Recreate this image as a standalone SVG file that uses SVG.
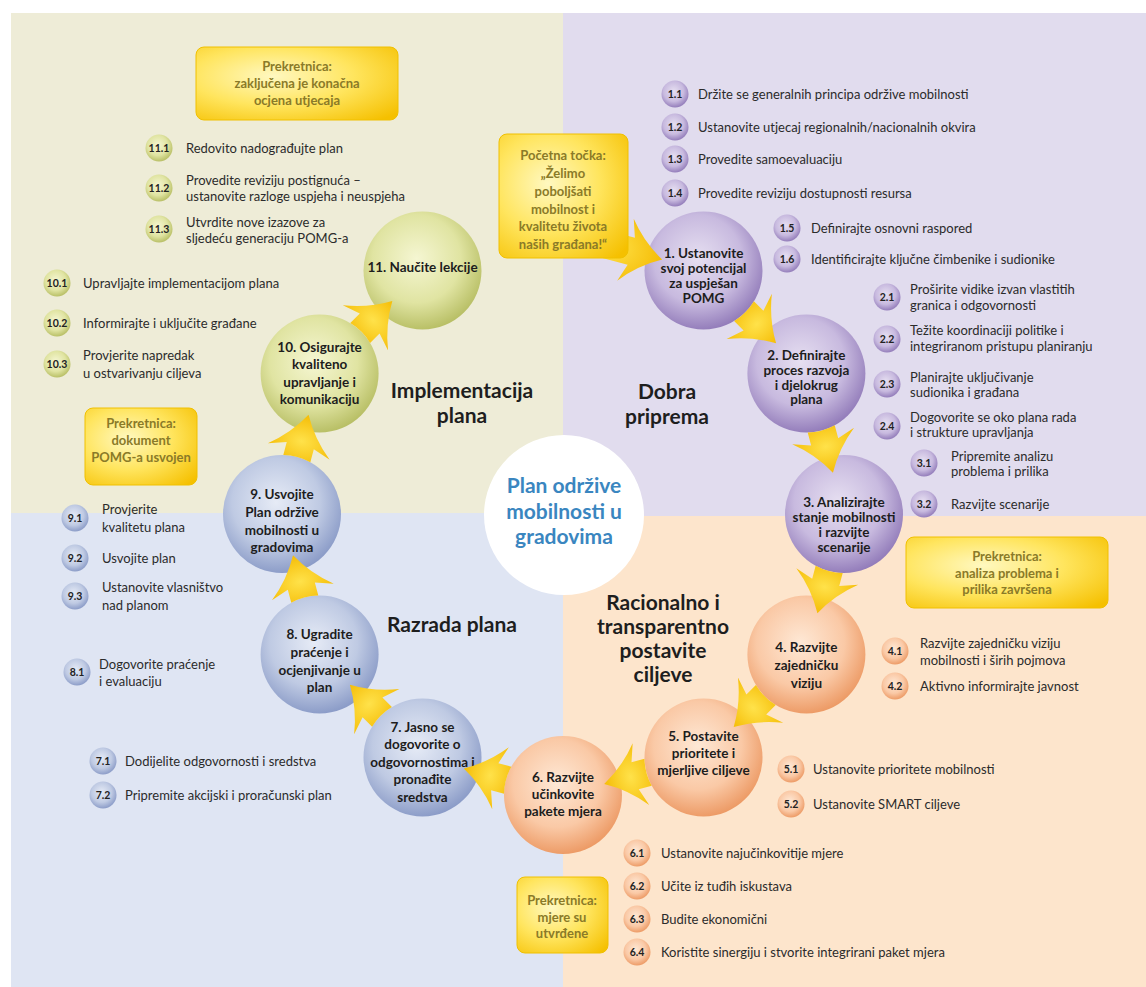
<svg xmlns="http://www.w3.org/2000/svg" xmlns:xlink="http://www.w3.org/1999/xlink" width="1146" height="987" viewBox="0 0 1146 987">
<style>
text{font-family:Lato,"Open Sans","DejaVu Sans",sans-serif}
.sub{font-size:13px;fill:#2b2b2b}
.bn{font-size:10.5px;font-weight:bold;fill:#222;text-anchor:middle}
.nt{font-size:13.5px;font-weight:bold;fill:#1d1d1d;text-anchor:middle}
.ph{font-size:21px;font-weight:bold;fill:#1e1e1e;text-anchor:middle}
.ms{font-size:13px;font-weight:bold;fill:#8a7a28;text-anchor:middle}
.ctr{font-size:21px;font-weight:bold;fill:#3a86c0;text-anchor:middle}
.box{fill:url(#gY);stroke:#f0c000;stroke-width:1}
.arrow{fill:url(#gA)}
</style>
<defs>
<radialGradient id="gP" cx="45%" cy="40%" r="62%"><stop offset="0" stop-color="#e6dff1"/><stop offset="0.6" stop-color="#c8badf"/><stop offset="1" stop-color="#9079b8"/></radialGradient>
<radialGradient id="gO" cx="45%" cy="40%" r="62%"><stop offset="0" stop-color="#fee8d5"/><stop offset="0.6" stop-color="#fac9a6"/><stop offset="1" stop-color="#ec9862"/></radialGradient>
<radialGradient id="gB" cx="45%" cy="40%" r="62%"><stop offset="0" stop-color="#e6ebf6"/><stop offset="0.6" stop-color="#bfcae3"/><stop offset="1" stop-color="#8899c6"/></radialGradient>
<radialGradient id="gG" cx="45%" cy="40%" r="62%"><stop offset="0" stop-color="#f5f6d2"/><stop offset="0.6" stop-color="#e0e4a2"/><stop offset="1" stop-color="#b6bd62"/></radialGradient>
<radialGradient id="gY" cx="38%" cy="40%" r="80%"><stop offset="0" stop-color="#fff8c0"/><stop offset="0.5" stop-color="#ffe55e"/><stop offset="1" stop-color="#f5c000"/></radialGradient>
<radialGradient id="gA" cx="40%" cy="50%" r="65%"><stop offset="0" stop-color="#ffe24a"/><stop offset="1" stop-color="#f4b900"/></radialGradient>
<path id="arr" d="M30,0 Q8,12 -8,32 L-2,14 L-15.4,14 A59,59 0 0 0 -15.4,-14 L-2,-14 L-8,-32 Q8,-12 30,0 Z"/>
<path id="arrS" d="M30,0 Q8,12 -8,32 L-2,14 L-60,14 L-60,-14 L-2,-14 L-8,-32 Q8,-12 30,0 Z"/>
</defs>

<g id="background">
<rect x="0" y="0" width="1146" height="987" fill="#ffffff"/>
<rect x="11" y="13" width="552" height="500" fill="#eeecd7"/>
<rect x="563" y="13" width="583" height="503" fill="#e1dcee"/>
<rect x="11" y="513" width="552" height="474" fill="#dfe5f3"/>
<rect x="563" y="516" width="583" height="471" fill="#fde5cc"/>
</g>

<g id="center">
<circle cx="564" cy="515" r="80" fill="#ffffff"/>
<text class="ctr"><tspan x="564" y="493">Plan održive</tspan><tspan x="564" y="518.5">mobilnosti u</tspan><tspan x="564" y="544">gradovima</tspan></text>
</g>

<g id="phase-labels">
<g id="ph-implementacija"><text class="ph"><tspan x="462" y="398">Implementacija</tspan><tspan x="462" y="423">plana</tspan></text></g>
<g id="ph-dobra"><text class="ph"><tspan x="667" y="399">Dobra</tspan><tspan x="667" y="424">priprema</tspan></text></g>
<g id="ph-racionalno"><text class="ph"><tspan x="663" y="610">Racionalno i</tspan><tspan x="663" y="634">transparentno</tspan><tspan x="663" y="658">postavite</tspan><tspan x="663" y="682">ciljeve</tspan></text></g>
<g id="ph-razrada"><text class="ph"><tspan x="452" y="632">Razrada plana</tspan></text></g>
</g>

<g id="n1"><circle cx="703.5" cy="270.6" r="59" fill="url(#gP)"/><text class="nt"><tspan x="703.5" y="258">1. Ustanovite</tspan><tspan x="703.5" y="273">svoj potencijal</tspan><tspan x="703.5" y="288">za uspješan</tspan><tspan x="703.5" y="303">POMG</tspan></text></g>
<g id="n2"><circle cx="806.4" cy="373.5" r="59" fill="url(#gP)"/><text class="nt"><tspan x="806.4" y="360">2. Definirajte</tspan><tspan x="806.4" y="375">proces razvoja</tspan><tspan x="806.4" y="390">i djelokrug</tspan><tspan x="806.4" y="404">plana</tspan></text></g>
<g id="n3"><circle cx="844" cy="514" r="59" fill="url(#gP)"/><text class="nt"><tspan x="844" y="507">3. Analizirajte</tspan><tspan x="844" y="522">stanje mobilnosti</tspan><tspan x="844" y="537">i razvijte</tspan><tspan x="844" y="552">scenarije</tspan></text></g>
<g id="n4"><circle cx="806.4" cy="654.5" r="59" fill="url(#gO)"/><text class="nt"><tspan x="806.4" y="652">4. Razvijte</tspan><tspan x="806.4" y="670">zajedničku</tspan><tspan x="806.4" y="688">viziju</tspan></text></g>
<g id="n5"><circle cx="703.5" cy="757.4" r="59" fill="url(#gO)"/><text class="nt"><tspan x="703.5" y="741">5. Postavite</tspan><tspan x="703.5" y="758">prioritete i</tspan><tspan x="703.5" y="775">mjerljive ciljeve</tspan></text></g>
<g id="n6"><circle cx="563" cy="795" r="59" fill="url(#gO)"/><text class="nt"><tspan x="563" y="782">6. Razvijte</tspan><tspan x="563" y="799">učinkovite</tspan><tspan x="563" y="816">pakete mjera</tspan></text></g>
<g id="n7"><circle cx="422.5" cy="757.4" r="59" fill="url(#gB)"/><text class="nt"><tspan x="422.5" y="732">7. Jasno se</tspan><tspan x="422.5" y="749">dogovorite o</tspan><tspan x="422.5" y="767">odgovornostima i</tspan><tspan x="422.5" y="784">pronađite</tspan><tspan x="422.5" y="802">sredstva</tspan></text></g>
<g id="n8"><circle cx="319.6" cy="654.5" r="59" fill="url(#gB)"/><text class="nt"><tspan x="319.6" y="639">8. Ugradite</tspan><tspan x="319.6" y="657">praćenje i</tspan><tspan x="319.6" y="675">ocjenjivanje u</tspan><tspan x="319.6" y="692">plan</tspan></text></g>
<g id="n9"><circle cx="282" cy="514" r="59" fill="url(#gB)"/><text class="nt"><tspan x="282" y="499">9. Usvojite</tspan><tspan x="282" y="517">Plan održive</tspan><tspan x="282" y="535">mobilnosti u</tspan><tspan x="282" y="552">gradovima</tspan></text></g>
<g id="n10"><circle cx="319.6" cy="373.5" r="59" fill="url(#gG)"/><text class="nt"><tspan x="319.6" y="352">10. Osigurajte</tspan><tspan x="319.6" y="369">kvaliteno</tspan><tspan x="319.6" y="387">upravljanje i</tspan><tspan x="319.6" y="404">komunikaciju</tspan></text></g>
<g id="n11"><circle cx="422.5" cy="270.6" r="59" fill="url(#gG)"/><text class="nt"><tspan x="422.5" y="272">11. Naučite lekcije</tspan></text></g>

<g id="connectors">
<use xlink:href="#arrS" href="#arrS" class="arrow" transform="translate(633.2,251.8) rotate(15)"/>
<use xlink:href="#arr" href="#arr" class="arrow" transform="translate(754.9,322.1) rotate(45)"/>
<use xlink:href="#arr" href="#arr" class="arrow" transform="translate(825.2,443.8) rotate(75)"/>
<use xlink:href="#arr" href="#arr" class="arrow" transform="translate(825.2,584.2) rotate(105)"/>
<use xlink:href="#arr" href="#arr" class="arrow" transform="translate(754.9,705.9) rotate(135)"/>
<use xlink:href="#arr" href="#arr" class="arrow" transform="translate(633.2,776.2) rotate(165)"/>
<use xlink:href="#arr" href="#arr" class="arrow" transform="translate(492.8,776.2) rotate(195)"/>
<use xlink:href="#arr" href="#arr" class="arrow" transform="translate(371.1,705.9) rotate(225)"/>
<use xlink:href="#arr" href="#arr" class="arrow" transform="translate(300.8,584.2) rotate(255)"/>
<use xlink:href="#arr" href="#arr" class="arrow" transform="translate(300.8,443.8) rotate(285)"/>
<use xlink:href="#arr" href="#arr" class="arrow" transform="translate(371.1,322.1) rotate(315)"/>
</g>

<g id="m-start"><rect class="box" x="499" y="134" width="129" height="124" rx="8"/><text class="ms"><tspan x="563" y="160">Početna točka:</tspan><tspan x="563" y="178">„Želimo</tspan><tspan x="563" y="196">poboljšati</tspan><tspan x="563" y="214">mobilnost i</tspan><tspan x="563" y="231">kvalitetu života</tspan><tspan x="563" y="249">naših građana!“</tspan></text></g>
<g id="m-11"><rect class="box" x="196" y="47" width="202" height="73" rx="8"/><text class="ms"><tspan x="297" y="71">Prekretnica:</tspan><tspan x="297" y="88">zaključena je konačna</tspan><tspan x="297" y="105">ocjena utjecaja</tspan></text></g>
<g id="m-9"><rect class="box" x="85" y="408" width="112" height="77" rx="8"/><text class="ms"><tspan x="141" y="428">Prekretnica:</tspan><tspan x="141" y="445">dokument</tspan><tspan x="141" y="462">POMG-a usvojen</tspan></text></g>
<g id="m-3"><rect class="box" x="906" y="537" width="202" height="71" rx="8"/><text class="ms"><tspan x="1007" y="561">Prekretnica:</tspan><tspan x="1007" y="578">analiza problema i</tspan><tspan x="1007" y="594">prilika završena</tspan></text></g>
<g id="m-6"><rect class="box" x="517" y="877" width="91" height="76" rx="8"/><text class="ms"><tspan x="562" y="905">Prekretnica:</tspan><tspan x="562" y="922">mjere su</tspan><tspan x="562" y="938">utvrđene</tspan></text></g>

<g id="s1-1"><circle cx="675" cy="94" r="13.5" fill="url(#gP)"/><text class="bn" x="675" y="98">1.1</text><text class="sub" x="698" y="98.5">Držite se generalnih principa održive mobilnosti</text></g>
<g id="s1-2"><circle cx="675" cy="127" r="13.5" fill="url(#gP)"/><text class="bn" x="675" y="131">1.2</text><text class="sub" x="698" y="131.5">Ustanovite utjecaj regionalnih/nacionalnih okvira</text></g>
<g id="s1-3"><circle cx="675" cy="159" r="13.5" fill="url(#gP)"/><text class="bn" x="675" y="163">1.3</text><text class="sub" x="698" y="163.5">Provedite samoevaluaciju</text></g>
<g id="s1-4"><circle cx="675" cy="193" r="13.5" fill="url(#gP)"/><text class="bn" x="675" y="197">1.4</text><text class="sub" x="698" y="197.5">Provedite reviziju dostupnosti resursa</text></g>
<g id="s1-5"><circle cx="787" cy="228" r="13.5" fill="url(#gP)"/><text class="bn" x="787" y="232">1.5</text><text class="sub" x="811" y="232.5">Definirajte osnovni raspored</text></g>
<g id="s1-6"><circle cx="787" cy="259" r="13.5" fill="url(#gP)"/><text class="bn" x="787" y="263">1.6</text><text class="sub" x="811" y="263.5">Identificirajte ključne čimbenike i sudionike</text></g>
<g id="s2-1"><circle cx="887" cy="297" r="13.5" fill="url(#gP)"/><text class="bn" x="887" y="301">2.1</text><text class="sub"><tspan x="910" y="293.5">Proširite vidike izvan vlastitih</tspan><tspan x="910" y="309.5">granica i odgovornosti</tspan></text></g>
<g id="s2-2"><circle cx="887" cy="339" r="13.5" fill="url(#gP)"/><text class="bn" x="887" y="343">2.2</text><text class="sub"><tspan x="910" y="335">Težite koordinaciji politike i</tspan><tspan x="910" y="351">integriranom pristupu planiranju</tspan></text></g>
<g id="s2-3"><circle cx="887" cy="384" r="13.5" fill="url(#gP)"/><text class="bn" x="887" y="388">2.3</text><text class="sub"><tspan x="910" y="381.5">Planirajte uključivanje</tspan><tspan x="910" y="397">sudionika i građana</tspan></text></g>
<g id="s2-4"><circle cx="887" cy="426" r="13.5" fill="url(#gP)"/><text class="bn" x="887" y="430">2.4</text><text class="sub"><tspan x="910" y="421.5">Dogovorite se oko plana rada</tspan><tspan x="910" y="436.5">i strukture upravljanja</tspan></text></g>
<g id="s3-1"><circle cx="924" cy="463" r="13.5" fill="url(#gP)"/><text class="bn" x="924" y="467">3.1</text><text class="sub"><tspan x="951" y="460.5">Pripremite analizu</tspan><tspan x="951" y="475.5">problema i prilika</tspan></text></g>
<g id="s3-2"><circle cx="924" cy="504" r="13.5" fill="url(#gP)"/><text class="bn" x="924" y="508">3.2</text><text class="sub" x="951" y="508.5">Razvijte scenarije</text></g>

<g id="s4-1"><circle cx="895" cy="651" r="13.5" fill="url(#gO)"/><text class="bn" x="895" y="655">4.1</text><text class="sub"><tspan x="920" y="647.5">Razvijte zajedničku viziju</tspan><tspan x="920" y="664.5">mobilnosti i širih pojmova</tspan></text></g>
<g id="s4-2"><circle cx="895" cy="686" r="13.5" fill="url(#gO)"/><text class="bn" x="895" y="690">4.2</text><text class="sub" x="920" y="690.5">Aktivno informirajte javnost</text></g>
<g id="s5-1"><circle cx="791" cy="769" r="13.5" fill="url(#gO)"/><text class="bn" x="791" y="773">5.1</text><text class="sub" x="813" y="773.5">Ustanovite prioritete mobilnosti</text></g>
<g id="s5-2"><circle cx="791" cy="804" r="13.5" fill="url(#gO)"/><text class="bn" x="791" y="808">5.2</text><text class="sub" x="813" y="808.5">Ustanovite SMART ciljeve</text></g>
<g id="s6-1"><circle cx="637" cy="853" r="13.5" fill="url(#gO)"/><text class="bn" x="637" y="857">6.1</text><text class="sub" x="661" y="857.5">Ustanovite najučinkovitije mjere</text></g>
<g id="s6-2"><circle cx="637" cy="886" r="13.5" fill="url(#gO)"/><text class="bn" x="637" y="890">6.2</text><text class="sub" x="661" y="890.5">Učite iz tuđih iskustava</text></g>
<g id="s6-3"><circle cx="637" cy="919" r="13.5" fill="url(#gO)"/><text class="bn" x="637" y="923">6.3</text><text class="sub" x="661" y="923.5">Budite ekonomični</text></g>
<g id="s6-4"><circle cx="637" cy="952" r="13.5" fill="url(#gO)"/><text class="bn" x="637" y="956">6.4</text><text class="sub" x="661" y="956.5">Koristite sinergiju i stvorite integrirani paket mjera</text></g>

<g id="s7-1"><circle cx="103" cy="761" r="13.5" fill="url(#gB)"/><text class="bn" x="103" y="765">7.1</text><text class="sub" x="125" y="765.5">Dodijelite odgovornosti i sredstva</text></g>
<g id="s7-2"><circle cx="103" cy="795" r="13.5" fill="url(#gB)"/><text class="bn" x="103" y="799">7.2</text><text class="sub" x="125" y="799.5">Pripremite akcijski i proračunski plan</text></g>
<g id="s8-1"><circle cx="77" cy="672" r="13.5" fill="url(#gB)"/><text class="bn" x="77" y="676">8.1</text><text class="sub"><tspan x="99" y="668.5">Dogovorite praćenje</tspan><tspan x="99" y="685.5">i evaluaciju</tspan></text></g>
<g id="s9-1"><circle cx="75" cy="518" r="13.5" fill="url(#gB)"/><text class="bn" x="75" y="522">9.1</text><text class="sub"><tspan x="102" y="513.5">Provjerite</tspan><tspan x="102" y="531.5">kvalitetu plana</tspan></text></g>
<g id="s9-2"><circle cx="75" cy="558" r="13.5" fill="url(#gB)"/><text class="bn" x="75" y="562">9.2</text><text class="sub" x="102" y="562.5">Usvojite plan</text></g>
<g id="s9-3"><circle cx="75" cy="596" r="13.5" fill="url(#gB)"/><text class="bn" x="75" y="600">9.3</text><text class="sub"><tspan x="102" y="591.5">Ustanovite vlasništvo</tspan><tspan x="102" y="609.5">nad planom</tspan></text></g>

<g id="s10-1"><circle cx="57" cy="283" r="13.5" fill="url(#gG)"/><text class="bn" x="57" y="287">10.1</text><text class="sub" x="83" y="287.5">Upravljajte implementacijom plana</text></g>
<g id="s10-2"><circle cx="57" cy="323" r="13.5" fill="url(#gG)"/><text class="bn" x="57" y="327">10.2</text><text class="sub" x="83" y="327.5">Informirajte i uključite građane</text></g>
<g id="s10-3"><circle cx="57" cy="364" r="13.5" fill="url(#gG)"/><text class="bn" x="57" y="368">10.3</text><text class="sub"><tspan x="83" y="359.5">Provjerite napredak</tspan><tspan x="83" y="377.5">u ostvarivanju ciljeva</tspan></text></g>
<g id="s11-1"><circle cx="159" cy="148" r="13.5" fill="url(#gG)"/><text class="bn" x="159" y="152">11.1</text><text class="sub" x="186" y="152.5">Redovito nadograđujte plan</text></g>
<g id="s11-2"><circle cx="159" cy="188" r="13.5" fill="url(#gG)"/><text class="bn" x="159" y="192">11.2</text><text class="sub"><tspan x="186" y="184.5">Provedite reviziju postignuća –</tspan><tspan x="186" y="200.5">ustanovite razloge uspjeha i neuspjeha</tspan></text></g>
<g id="s11-3"><circle cx="159" cy="229" r="13.5" fill="url(#gG)"/><text class="bn" x="159" y="233">11.3</text><text class="sub"><tspan x="186" y="226.5">Utvrdite nove izazove za</tspan><tspan x="186" y="242.5">sljedeću generaciju POMG-a</tspan></text></g>
</svg>
